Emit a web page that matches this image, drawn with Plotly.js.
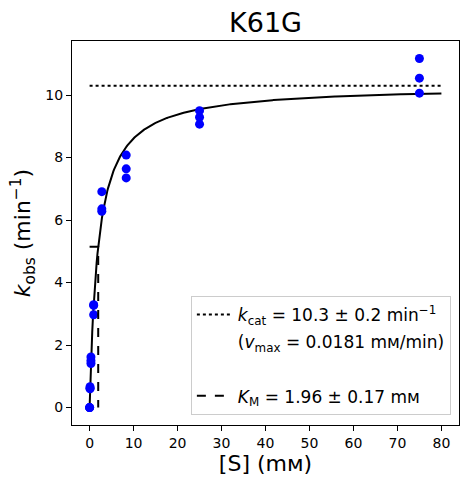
<!DOCTYPE html>
<html>
<head>
<meta charset="utf-8">
<script src="https://cdn.plot.ly/plotly-3.0.1.min.js"></script>
<style>html,body{margin:0;padding:0;background:#fff;}#chart{width:469px;height:484px;}</style>
</head>
<body>
<div id="chart"></div>
<script>
// Substrate concentrations (mM) and observed rates (min^-1)
const substrate = [0, 0, 0,
  0.103, 0.103, 0.103,
  0.309, 0.309, 0.309,
  0.926, 0.926, 0.926,
  2.78, 2.78, 2.78,
  8.33, 8.33, 8.33,
  25, 25, 25,
  75, 75, 75];
const kobs = [0.0, 0.0, 0.0,
  0.67, 0.62, 0.60,
  1.62, 1.50, 1.41,
  3.29, 3.27, 2.97,
  6.91, 6.36, 6.28,
  8.08, 7.64, 7.35,
  9.50, 9.29, 9.07,
  11.17, 10.54, 10.06];

// Fitted Michaelis-Menten parameters
const kcat = 10.3;
const Km = 1.96;
const curveX = [];
for (let i = 0; i <= 400; i++) curveX.push(80 * i / 400);
const curveY = curveX.map(s => kcat * s / (Km + s));

const xTicks = [0, 10, 20, 30, 40, 50, 60, 70, 80];
const yTicks = [0, 2, 4, 6, 8, 10];

const F = "DejaVu Sans, sans-serif";

const traces = [
  {x: curveX, y: curveY, mode: 'lines', line: {color: '#000', width: 2}, showlegend: false, hoverinfo: 'skip'},
  {x: substrate, y: kobs, mode: 'markers', marker: {color: '#0000ff', size: 9}, showlegend: false},
  {x: [0, 80], y: [kcat, kcat], mode: 'lines', line: {color: '#000', width: 2, dash: 'dot'},
   name: '<i>k</i><sub>cat</sub> = 10.3 ± 0.2 min<sup>−1</sup>', legendgroup: 'a'},
  {x: [null], y: [null], mode: 'lines', line: {color: 'rgba(0,0,0,0)', width: 0},
   name: '(<i>v</i><sub>max</sub> = 0.0181 mᴍ/min)', legendgroup: 'b'},
  {x: [null], y: [null], mode: 'lines', line: {color: 'rgba(0,0,0,0)', width: 0},
   name: ' ', legendgroup: 'c'},
  {x: [0, Km, Km], y: [kcat / 2, kcat / 2, 0], mode: 'lines', line: {color: '#000', width: 2, dash: 'dash'},
   name: '<i>K</i><sub>M</sub> = 1.96 ± 0.17 mᴍ', legendgroup: 'd'}
];

const layout = {
  width: 469, height: 484,
  margin: {l: 72, r: 10, t: 41, b: 59},
  paper_bgcolor: '#fff', plot_bgcolor: '#fff',
  font: {family: F, color: '#000', size: 14},
  title: {text: 'K61G', font: {family: F, size: 27, color: '#000'}, x: 0.5, xref: 'paper', y: 0.953, yref: 'container', yanchor: 'middle'},
  xaxis: {
    range: [-4, 84], tickvals: xTicks, ticktext: xTicks.map(String),
    showgrid: false, zeroline: false, showline: true, mirror: true, linecolor: '#000', linewidth: 1,
    ticks: 'outside', ticklen: 5, tickcolor: '#000', tickfont: {size: 14, family: F},
    title: {text: '[S] (mᴍ)', font: {size: 22, family: F}, standoff: 5}
  },
  yaxis: {
    range: [-0.558, 11.73], tickvals: yTicks, ticktext: yTicks.map(String),
    showgrid: false, zeroline: false, showline: true, mirror: true, linecolor: '#000', linewidth: 1,
    ticks: 'outside', ticklen: 5, tickcolor: '#000', tickfont: {size: 14, family: F},
    title: {text: '<i>k</i><sub>obs</sub> (min<sup>−1</sup>)', font: {size: 22, family: F}, standoff: 8}
  },
  legend: {
    x: 0.979, xanchor: 'right', y: 0.026, yanchor: 'bottom',
    bgcolor: 'rgba(255,255,255,0.8)', bordercolor: '#cccccc', borderwidth: 1,
    font: {size: 17, family: F, color: '#000'},
    traceorder: 'grouped', tracegroupgap: 2, itemwidth: 36
  },
  showlegend: true
};

Plotly.newPlot('chart', traces, layout, {displayModeBar: false, staticPlot: true});
</script>
</body>
</html>
